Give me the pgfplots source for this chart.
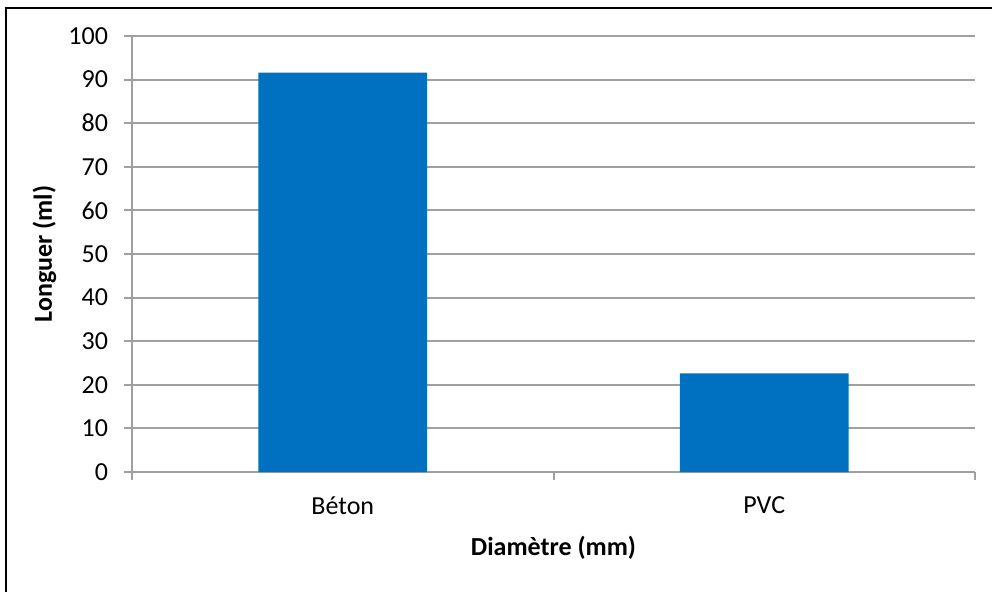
\documentclass[border=0pt]{standalone}
\usepackage{fontspec}
\setmainfont{Carlito}
\usepackage{pgfplots}
\pgfplotsset{compat=1.18}
\definecolor{barblue}{RGB}{0,112,192}
\definecolor{gridgray}{RGB}{160,160,160}

\begin{document}
\begin{tikzpicture}
\fontsize{13}{15}\selectfont
% page size: 992 x 591 px at 0.5pt per px, plot area origin at (132,472) px
\useasboundingbox (-66pt,-59.5pt) rectangle (430pt,236pt);
\draw[line width=1pt] (-63pt,-62pt) -- (-63pt,232pt) -- (432pt,232pt);
\begin{axis}[
    at={(0pt,0pt)}, anchor=south west,
    scale only axis, width=421.5pt, height=218pt,
    xmin=-0.5, xmax=1.5, ymin=0, ymax=100,
    ytick={0,10,...,100},
    xtick={-0.5,0.5,1.5}, xticklabels={},
    extra x ticks={0,1}, extra x tick labels={Béton,PVC},
    extra x tick style={major tick length=0pt},
    axis lines=left,
    axis line style={-, gridgray, line width=1pt},
    ymajorgrids, grid style={gridgray, line width=1pt},
    tick align=outside, major tick length=4pt,
    tick style={gridgray, line width=1pt},
    /pgf/number format/assume math mode=true,
    ticklabel style={font=\fontsize{13}{15}\selectfont, text=black},
    xticklabel style={yshift=-8pt},
    yticklabel style={xshift=-3.5pt},
    ylabel={\textbf{Longuer (ml)}},
    xlabel={\textbf{Diamètre (mm)}},
    ylabel style={at={([xshift=-40pt]axis description cs:0,0.5)}, anchor=base},
    xlabel style={at={([yshift=-41.5pt]axis description cs:0.5,0)}, anchor=base},
    label style={font=\fontsize{13}{15}\selectfont},
]
\addplot[ybar, fill=barblue, draw=none, bar width=0.4] coordinates {
    (0,91.6) (1,22.6)
};
\end{axis}
\end{tikzpicture}
\end{document}
